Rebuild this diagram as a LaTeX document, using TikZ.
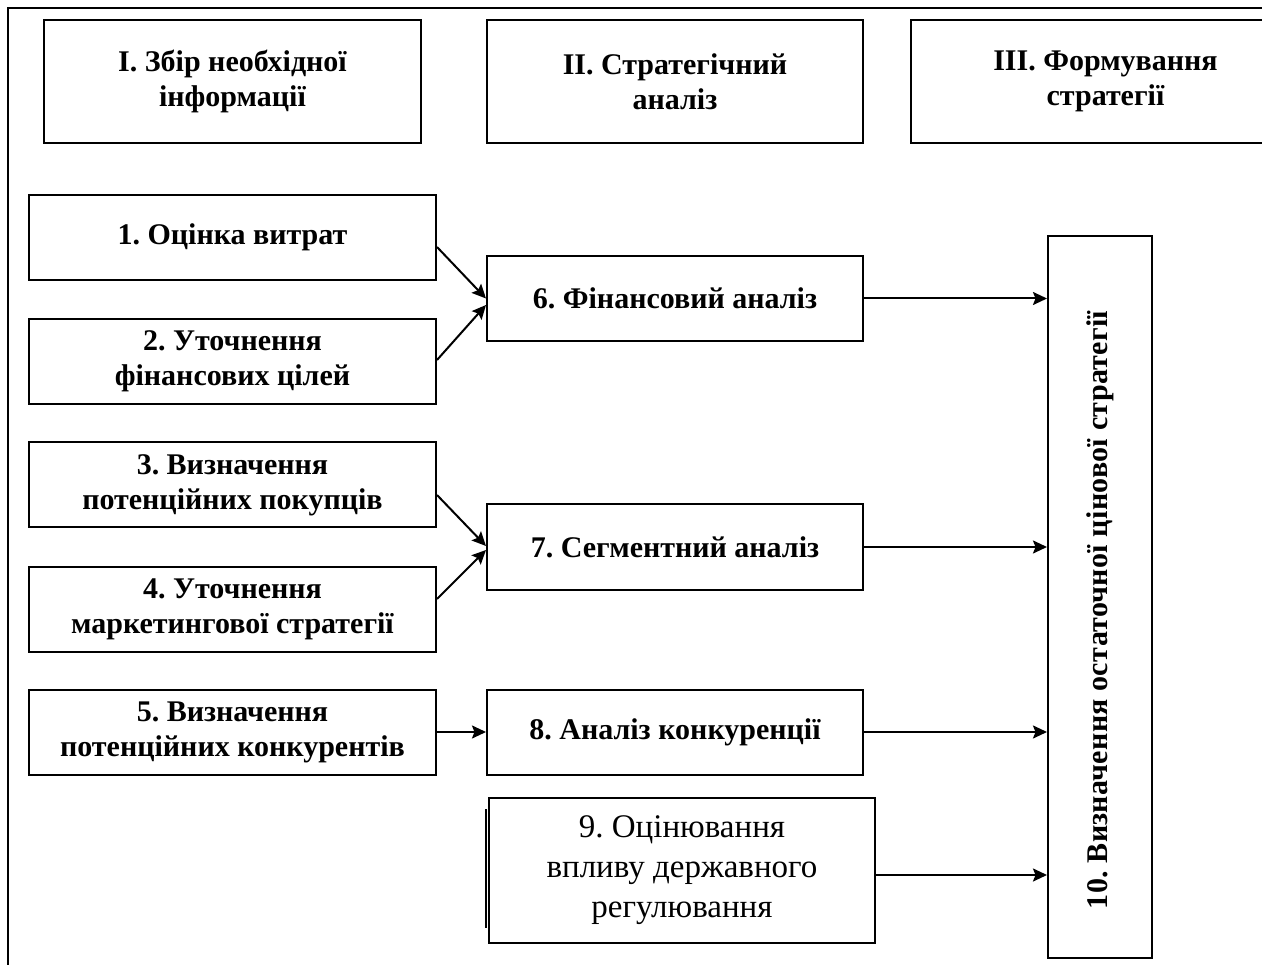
\documentclass[tikz,border=0pt]{standalone}
\usepackage{fontspec}
\setmainfont{Liberation Serif}
\newfontfamily\spacedserif[LetterSpace=1]{Liberation Serif}
\usetikzlibrary{arrows.meta}
\frenchspacing

\begin{document}
\begin{tikzpicture}[x=1pt,y=-1pt,line width=2pt,>={Stealth[length=14pt,width=13pt,inset=2.5pt]}]
		\tikzstyle{box}=[draw,minimum width=407pt,minimum height=85pt,inner sep=2pt,align=center,font=\fontsize{30}{35}\selectfont\bfseries]
		\tikzstyle{head}=[box,minimum height=123pt]
		\tikzstyle{analysis}=[box,minimum width=376pt]
		\useasboundingbox (0,0) rectangle (1262,965);
		% outer frame
		\draw (8,1000) -- (8,8) -- (1300,8);
		% stages
		\node[head,minimum width=377pt] (h_1) at (232.5,81.5) {I. Збір необхідної\\інформації};
		\node[head,minimum width=376pt] (h_2) at (675,81.5) {II. Стратегічний\\аналіз};
		\node[head,minimum width=389pt] (h_3) at (1105.5,81.5) {III. Формування\\стратегії};
		% information
		\node[box] (b_1) at (232.5,237.5) {1. Оцінка витрат};
		\node[box] (b_2) at (232.5,361.5) {2. Уточнення\\фінансових цілей};
		\node[box] (b_3) at (232.5,485) {3. Визначення\\потенційних покупців};
		\node[box] (b_4) at (232.5,609) {4. Уточнення\\маркетингової стратегії};
		\node[box] (b_5) at (232.5,732) {5. Визначення\\потенційних конкурентів};
		% analysis
		\node[analysis] (b_6) at (675,298.5) {6. Фінансовий аналіз};
		\node[analysis] (b_7) at (675,547) {7. Сегментний аналіз};
		\node[analysis] (b_8) at (675,732) {8. Аналіз конкуренції};
		\node[box,minimum width=386pt,minimum height=145pt,font=\fontsize{33}{40}\selectfont] (b_9) at (682,870.5) {9. Оцінювання\\впливу державного\\регулювання};
		\draw ([xshift=-2pt,yshift=-12pt]b_9.north west) -- ([xshift=-2pt,yshift=16pt]b_9.south west);
		% strategy
		\node[draw,minimum width=104pt,minimum height=722pt] (b_10) at (1100,597) {};
		\node[rotate=90,font=\spacedserif\fontsize{30}{35}\selectfont\bfseries] (t_10) at (1100,610) {10. Визначення остаточної цінової стратегії};
		\draw[->] ([yshift=-9.5pt]b_1.east) -- (b_6.west);
		\draw[->] ([yshift=1.5pt]b_2.east) -- ([yshift=-6.5pt]b_6.west);
		\draw[->] ([yshift=-10pt]b_3.east) -- ([yshift=1pt]b_7.west);
		\draw[->] ([yshift=10pt]b_4.east) -- ([yshift=-3pt]b_7.west);
		\draw[->] (b_5.east) -- (b_8.west);
		\draw[->] (b_6.east) -- (b_6.east -| b_10.west);
		\draw[->] (b_7.east) -- (b_7.east -| b_10.west);
		\draw[->] (b_8.east) -- (b_8.east -| b_10.west);
		\draw[->] ([yshift=-4.5pt]b_9.east) -- ([yshift=-4.5pt]b_9.east -| b_10.west);
	\end{tikzpicture}
\end{document}
